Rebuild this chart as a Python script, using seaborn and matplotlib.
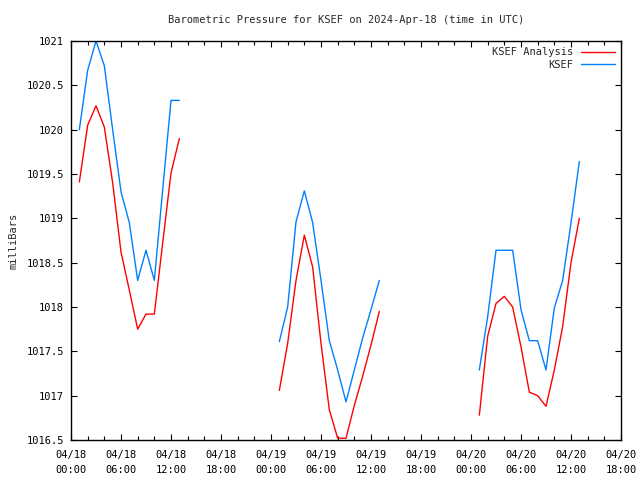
import numpy as np
import pandas as pd
import matplotlib
matplotlib.use("Agg")
import matplotlib.pyplot as plt
import seaborn as sns
from matplotlib.ticker import MultipleLocator

# Hours since 2024-04-18 00:00 UTC
hours_1 = list(range(1, 14))
hours_2 = list(range(25, 38))
hours_3 = list(range(49, 62))

ksef_1 = [1020.0, 1020.67, 1021.0, 1020.72, 1020.0, 1019.3, 1018.95, 1018.3,
          1018.64, 1018.3, 1019.32, 1020.33, 1020.33]
ksef_2 = [1017.61, 1018.0, 1018.96, 1019.31, 1018.95, 1018.3, 1017.62, 1017.29,
          1016.93, 1017.29, 1017.65, 1017.97, 1018.3]
ksef_3 = [1017.29, 1017.89, 1018.64, 1018.64, 1018.64, 1017.97, 1017.62, 1017.62,
          1017.29, 1017.99, 1018.3, 1018.95, 1019.64]

anal_1 = [1019.41, 1020.05, 1020.27, 1020.03, 1019.4, 1018.62, 1018.19, 1017.75,
          1017.92, 1017.92, 1018.72, 1019.51, 1019.9]
anal_2 = [1017.06, 1017.59, 1018.3, 1018.81, 1018.45, 1017.59, 1016.84, 1016.52,
          1016.52, 1016.89, 1017.22, 1017.57, 1017.95]
anal_3 = [1016.78, 1017.67, 1018.04, 1018.12, 1018.0, 1017.55, 1017.04, 1017.0,
          1016.88, 1017.29, 1017.78, 1018.5, 1019.0]

tick_hours = list(range(0, 67, 6))
tick_labels = ["04/18\n00:00", "04/18\n06:00", "04/18\n12:00", "04/18\n18:00",
               "04/19\n00:00", "04/19\n06:00", "04/19\n12:00", "04/19\n18:00",
               "04/20\n00:00", "04/20\n06:00", "04/20\n12:00", "04/20\n18:00"]

rows = []
for seg, (h, a, k) in enumerate([(hours_1, anal_1, ksef_1),
                                  (hours_2, anal_2, ksef_2),
                                  (hours_3, anal_3, ksef_3)]):
    for hh, v in zip(h, a):
        rows.append(("KSEF Analysis", seg, hh, v))
    for hh, v in zip(h, k):
        rows.append(("KSEF", seg, hh, v))
df = pd.DataFrame(rows, columns=["series", "segment", "hour", "value"])

sns.set_style("ticks")
plt.rcParams['font.family'] = ['DejaVu Sans Mono', 'DejaVu Sans']
plt.rcParams['font.size'] = 7

fig = plt.figure(figsize=(6.4, 4.8), dpi=100)
ax = fig.add_axes([71/640, 40/480, 550/640, 399/480])

sns.lineplot(data=df, x="hour", y="value", hue="series", units="segment",
             estimator=None, palette={"KSEF Analysis": "#ff0000", "KSEF": "#0080ff"},
             hue_order=["KSEF Analysis", "KSEF"], linewidth=1.0, ax=ax, legend=True)

ax.set_xlim(0, 66)
ax.set_ylim(1016.5, 1021)
ax.set_xticks(tick_hours)
ax.set_xticklabels(tick_labels, linespacing=1.6)
ax.xaxis.set_minor_locator(MultipleLocator(2))
ax.set_yticks([1016.5, 1017, 1017.5, 1018, 1018.5, 1019, 1019.5, 1020, 1020.5, 1021])
ax.set_yticklabels(["1016.5", "1017", "1017.5", "1018", "1018.5", "1019",
                    "1019.5", "1020", "1020.5", "1021"])
ax.tick_params(direction="in", top=True, right=True, which="both", length=4,
               width=0.8, labelsize=7.5, colors="black")
ax.tick_params(axis="x", pad=7)
ax.tick_params(axis="y", pad=5)
ax.tick_params(which="minor", length=3)
for s in ax.spines.values():
    s.set_linewidth(1.0)
    s.set_color("black")

ax.set_xlabel("")
ax.set_ylabel("milliBars", fontsize=7.5, labelpad=6)
ax.set_title("Barometric Pressure for KSEF on 2024-Apr-18 (time in UTC)",
             fontsize=7.5, pad=13)

leg = ax.legend(loc="upper right", frameon=False, markerfirst=False,
                fontsize=7.5, handlelength=3.2, borderaxespad=0.2,
                labelspacing=0.25, handletextpad=0.8)
for t in leg.get_texts():
    t.set_ha("right")

fig.savefig("out.png", dpi=100)
